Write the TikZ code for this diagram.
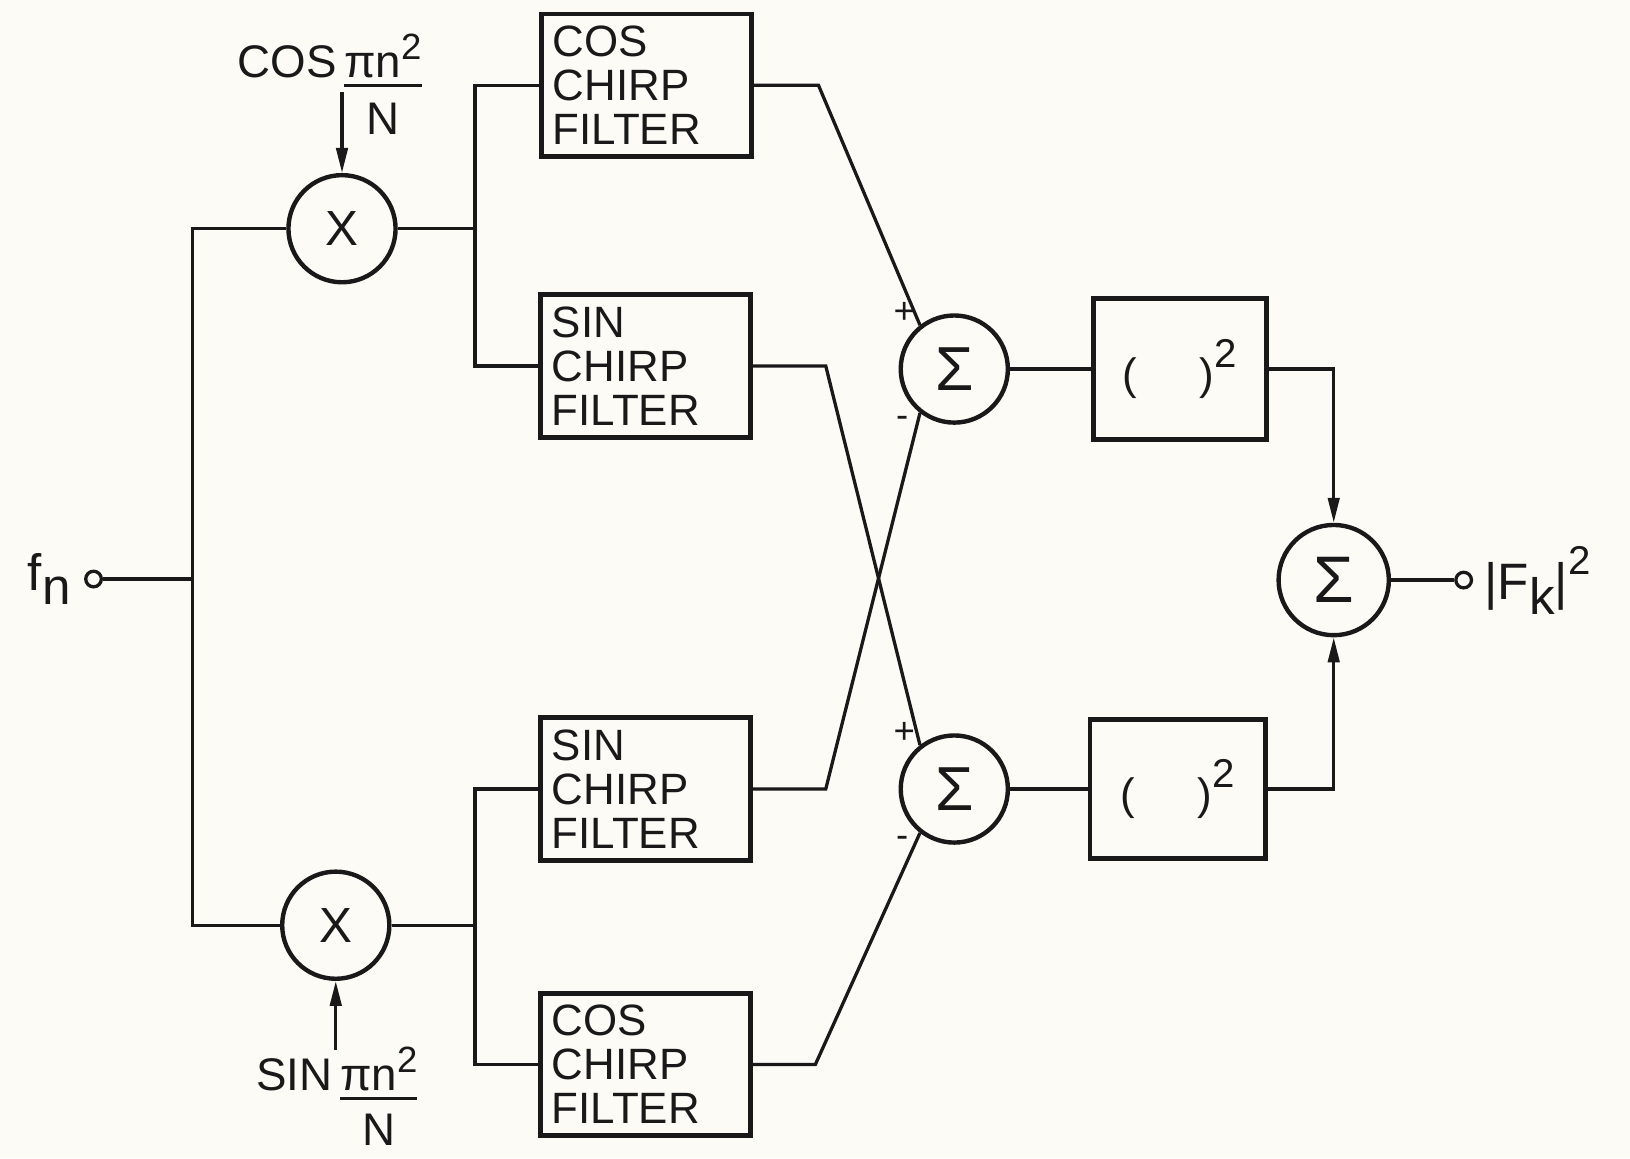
\documentclass[tikz,border=0pt]{standalone}
\usepackage{fontspec}
\setmainfont{Liberation Sans}
\usetikzlibrary{arrows.meta}
\definecolor{paper}{RGB}{252,251,246}
\definecolor{ink}{RGB}{25,25,25}
\begin{document}
\begin{tikzpicture}[x=0.01cm,y=-0.01cm,
  line width=0.9pt, color=ink,
  every node/.style={font=\fontsize{12}{12}\selectfont},
  fbox/.style={draw, line width=1.3pt, rectangle, align=left, text width=1.8cm,
    inner xsep=0.11cm, minimum height=1.36cm, font=\fontsize{12}{12}\selectfont},
  sbox/.style={draw, line width=1.3pt, rectangle, minimum width=1.66cm, minimum height=1.36cm},
  op/.style={draw, circle, line width=1.2pt, minimum size=1.03cm, inner sep=0pt},
  sig/.style={op, font=\fontsize{17}{17}\selectfont},
  term/.style={draw, circle, line width=0.9pt, minimum size=0.15cm, inner sep=0pt},
  arr/.style={-{Triangle[length=0.24cm,width=0.11cm]}},
  pm/.style={font=\fontsize{10}{10}\selectfont, inner sep=0pt},
  lab/.style={anchor=base west, inner sep=0pt, font=\fontsize{12.5}{12.5}\selectfont},
]
\fill[paper] (0,0) rectangle (1568,1114);
\useasboundingbox (0,0) rectangle (1568,1114);

% filters
\node[fbox] (cf1) at (622,82) {COS\\CHIRP\\FILTER};
\node[fbox] (sf1) at (621,352) {SIN\\CHIRP\\FILTER};
\node[fbox] (sf2) at (621,759) {SIN\\CHIRP\\FILTER};
\node[fbox] (cf2) at (621,1024) {COS\\CHIRP\\FILTER};

% multipliers and summers
\node[op, font=\fontsize{13.5}{13.5}\selectfont] (mul1) at (329,220) {X};
\node[op, font=\fontsize{13.5}{13.5}\selectfont] (mul2) at (323,890) {X};
\node[sig] (sum1) at (918,355) {Σ};
\node[sig] (sum2) at (918,759) {Σ};
\node[sig, minimum size=1.06cm, font=\fontsize{18}{18}\selectfont] (osum) at (1283,558) {Σ};

% squarers
\node[sbox] (sq1) at (1135,355) {(\hspace{0.6cm})\raisebox{6pt}{\fontsize{11}{11}\selectfont 2}};
\node[sbox, minimum width=1.69cm, minimum height=1.34cm] (sq2) at (1133,759) {(\hspace{0.6cm})\raisebox{6pt}{\fontsize{11}{11}\selectfont 2}};

% terminals
\node[term] (in) at (90,557) {};
\node[anchor=east, inner sep=1pt, font=\fontsize{14}{14}\selectfont] (fn) at ([xshift=-0.08cm]in.west) {f\raisebox{-4pt}{n}};
\node[term] (out) at (1408,558) {};
\node[anchor=west, inner sep=1pt, font=\fontsize{14}{14}\selectfont] (fk) at ([xshift=0.06cm]out.east) {|F\raisebox{-4pt}{k}|\raisebox{7pt}{\fontsize{11}{11}\selectfont 2}};

% reference signal labels
\node[lab] (coslab) at (227,75) {COS\,{\renewcommand{\arraystretch}{0.45}\setlength{\arrayrulewidth}{0.9pt}\begin{tabular}[t]{@{}c@{}}πn\raisebox{5pt}{\fontsize{10}{10}\selectfont 2}\\\hline N\rule{0pt}{13pt}\end{tabular}}};
\node[lab] (sinlab) at (245,1049) {SIN\,{\renewcommand{\arraystretch}{0.45}\setlength{\arrayrulewidth}{0.9pt}\begin{tabular}[t]{@{}c@{}}πn\raisebox{5pt}{\fontsize{10}{10}\selectfont 2}\\\hline N\rule{0pt}{12.5pt}\end{tabular}}};

\draw[arr] ([yshift=0.78cm]mul1.north) -- (mul1.north);
\draw[arr] ([yshift=-0.66cm]mul2.south) -- (mul2.south);

% input distribution
\coordinate (jl) at (185,557);
\draw (in) -- (jl);
\draw (mul1) -| (jl) |- (mul2);

\coordinate (b1) at (457,220);
\coordinate (b2) at (457,890);
\draw (mul1) -- (b1);
\draw (cf1) -| (b1) |- (sf1);
\draw (mul2) -- (b2);
\draw (sf2) -| (b2) |- (cf2);

% cross connections
\draw (cf1.east) -- ++(62,0) -- (sum1.128);
\draw (sf1.east) -- ++(70,0) -- (sum2.128);
\draw (sf2.east) -- ++(70,0) -- (sum1.232);
\draw (cf2.east) -- ++(60,0) -- (sum2.232);

\node[pm] at ([xshift=-0.15cm,yshift=0.12cm]sum1.128) {+};
\node[pm] at ([xshift=-0.17cm,yshift=-0.09cm]sum1.232) {-};
\node[pm] at ([xshift=-0.15cm,yshift=0.12cm]sum2.128) {+};
\node[pm] at ([xshift=-0.17cm,yshift=-0.09cm]sum2.232) {-};

% squaring and output
\draw (sum1) -- (sq1);
\draw (sum2) -- (sq2);
\draw[arr] (sq1) -| (osum);
\draw[arr] (sq2) -| (osum);
\draw (osum) -- (out);
\end{tikzpicture}
\end{document}
